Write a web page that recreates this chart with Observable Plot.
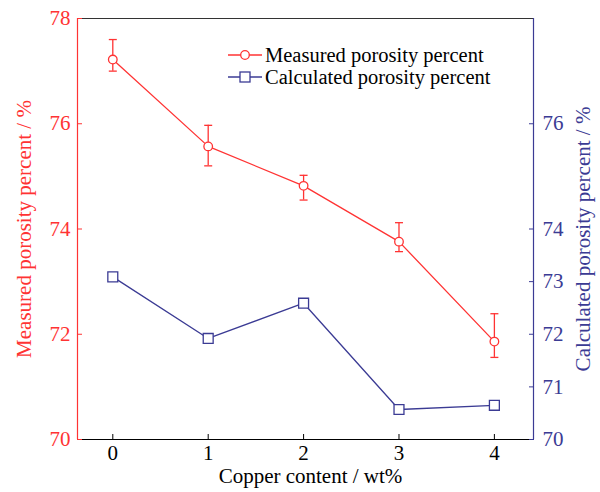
<!DOCTYPE html>
<html><head><meta charset="utf-8">
<script src="https://cdn.jsdelivr.net/npm/d3@7"></script>
<script src="https://cdn.jsdelivr.net/npm/@observablehq/plot@0.6"></script>
<style>
body{margin:0;background:#fff;}
#wrap{position:relative;width:600px;height:492px;}
#wrap svg text{font-family:"Liberation Serif","Times New Roman",serif;}
#legend{position:absolute;left:228px;top:44px;}
#legend .syms{position:absolute;left:0;top:0;}
#legend .txt{position:absolute;left:37px;top:0;font-family:"Liberation Serif","Times New Roman",serif;font-size:20.5px;line-height:22px;color:#000;white-space:nowrap;}
</style></head><body><div id="wrap"></div>
<script>
// Data
const copper = [0, 1, 2, 3, 4];
const measured = [77.22, 75.57, 74.82, 73.76, 71.86];
const measuredLow = [77.0, 75.2, 74.55, 73.57, 71.56];
const measuredHigh = [77.6, 75.97, 75.02, 74.12, 72.39];
const calculated = [73.09, 71.92, 72.59, 70.57, 70.65];
const leftTicks = [70, 72, 74, 76, 78];
const rightTicks = [70, 71, 72, 73, 74, 76];
const xDomain = [-0.37, 4.41];
const yDomain = [70, 78];
const seriesNames = ["Measured porosity percent", "Calculated porosity percent"];
const xLabel = "Copper content / wt%";
const yLeftLabel = "Measured porosity percent / %";
const yRightLabel = "Calculated porosity percent / %";

const RED = "#ff3333", BLUE = "#3b3b94";
const FONT = "Liberation Serif";
const data = copper.map((c, i) => ({c, m: measured[i], lo: measuredLow[i], hi: measuredHigh[i], k: calculated[i]}));
const cap = {draw(ctx) { ctx.moveTo(-4, 0); ctx.lineTo(4, 0); }};

const chart = Plot.plot({
  width: 600, height: 492,
  marginTop: 18, marginBottom: 53, marginLeft: 77, marginRight: 67,
  style: {fontFamily: FONT, fontSize: "21px", background: "#fff", overflow: "visible"},
  x: {domain: xDomain},
  y: {domain: yDomain},
  marks: [
    Plot.ruleY([yDomain[1]], {stroke: "#333", strokeWidth: 1.2}),
    Plot.ruleY([yDomain[0]], {stroke: "#000", strokeWidth: 1.2}),
    Plot.ruleX([xDomain[0]], {stroke: RED, strokeWidth: 1.2}),
    Plot.ruleX([xDomain[1]], {stroke: BLUE, strokeWidth: 1.2}),
    Plot.axisX({ticks: copper, tickFormat: d3.format("d"), tickSize: -5, tickPadding: 11, color: "#000",
      fontSize: 21, fontFamily: FONT, label: null}),
    Plot.axisY({anchor: "left", ticks: leftTicks, tickFormat: d3.format("d"), tickSize: -5, tickPadding: 12, color: RED,
      fontSize: 21, fontFamily: FONT,
      label: yLeftLabel, labelAnchor: "center", labelArrow: "none", labelOffset: 61}),
    Plot.axisY({anchor: "right", ticks: rightTicks, tickFormat: d3.format("d"), tickSize: -5, tickPadding: 14, color: BLUE,
      fontSize: 21, fontFamily: FONT, label: null}),
    Plot.text([xLabel], {frameAnchor: "bottom", textAnchor: "middle", dx: 5, dy: 37, lineAnchor: "middle",
      fill: "#000", fontSize: 21, fontFamily: FONT}),
    Plot.text([yRightLabel], {frameAnchor: "right", textAnchor: "middle", dx: 50, dy: 10, rotate: -90, lineAnchor: "middle",
      fill: BLUE, fontSize: 21, fontFamily: FONT}),
    Plot.line(data, {x: "c", y: "k", stroke: BLUE, strokeWidth: 1.3}),
    Plot.dot(data, {x: "c", y: "k", symbol: "square", r: 5.6, stroke: BLUE, fill: "#fff", strokeWidth: 1.3}),
    Plot.line(data, {x: "c", y: "m", stroke: RED, strokeWidth: 1.3}),
    Plot.ruleX(data, {x: "c", y1: "lo", y2: "hi", stroke: RED, strokeWidth: 1.3}),
    Plot.dot(data, {x: "c", y: "lo", symbol: cap, stroke: RED, strokeWidth: 1.3}),
    Plot.dot(data, {x: "c", y: "hi", symbol: cap, stroke: RED, strokeWidth: 1.3}),
    Plot.dot(data, {x: "c", y: "m", r: 4.3, stroke: RED, fill: "#fff", strokeWidth: 1.3})
  ]
});
const wrap = document.getElementById("wrap");
wrap.appendChild(chart);

// Legend (inside plot area, as in the reference): symbols + one two-line text block
const legend = document.createElement("div");
legend.id = "legend";
legend.innerHTML =
  `<svg class="syms" width="36" height="44">
     <line x1="0" x2="34" y1="11" y2="11" stroke="${RED}" stroke-width="1.3"/>
     <circle cx="17" cy="11" r="4.3" fill="#fff" stroke="${RED}" stroke-width="1.3"/>
     <line x1="0" x2="34" y1="33" y2="33" stroke="${BLUE}" stroke-width="1.3"/>
     <rect x="12" y="28" width="10" height="10" fill="#fff" stroke="${BLUE}" stroke-width="1.3"/>
   </svg>
   <div class="txt">${seriesNames[0]}<br>${seriesNames[1]}</div>`;
wrap.appendChild(legend);
</script></body></html>
